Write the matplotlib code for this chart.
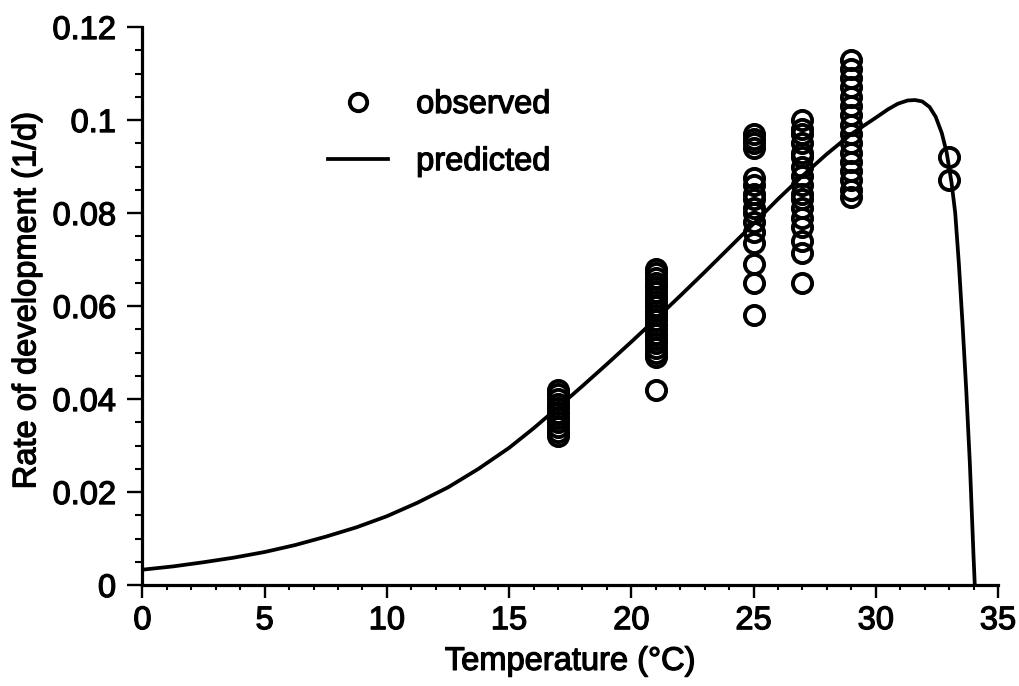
import matplotlib
matplotlib.use("Agg")
import matplotlib.pyplot as plt
from matplotlib.lines import Line2D
from matplotlib.ticker import MultipleLocator
import matplotlib.patheffects as pe

plt.rcParams['font.family'] = ['Liberation Sans', 'DejaVu Sans']

# Observed development rates (1/d) at each rearing temperature (°C)
temps_obs = [17, 21, 25, 27, 29, 33]
obs_17 = [0.032, 0.033, 0.034, 0.035, 0.036, 0.037, 0.038, 0.039, 0.040, 0.041, 0.042]
obs_21 = [0.042, 0.049, 0.050, 0.051, 0.052, 0.053, 0.054, 0.055, 0.056, 0.057, 0.058,
          0.059, 0.060, 0.061, 0.062, 0.063, 0.064, 0.065, 0.066, 0.067, 0.068]
obs_25 = [0.058, 0.065, 0.069, 0.0735, 0.076, 0.078, 0.080, 0.081, 0.083, 0.084, 0.086,
          0.0875, 0.094, 0.095, 0.096, 0.097]
obs_27 = [0.065, 0.0714, 0.074, 0.077, 0.079, 0.081, 0.083, 0.084, 0.086, 0.088, 0.090,
          0.092, 0.093, 0.095, 0.097, 0.098, 0.100]
obs_29 = [0.0834, 0.085, 0.087, 0.089, 0.091, 0.093, 0.095, 0.097, 0.099, 0.101, 0.103,
          0.105, 0.107, 0.109, 0.111, 0.113]
obs_33 = [0.087, 0.092]
obs_groups = [obs_17, obs_21, obs_25, obs_27, obs_29, obs_33]

# Predicted curve
pred_temp = [0, 1.25, 2.5, 3.75, 5, 6.25, 7.5, 8.75, 10, 11.25, 12.5, 13.75, 15, 16,
             17, 18, 19, 20, 21, 22, 23, 24, 25, 26, 27, 28, 29, 30, 30.5, 30.9,
             31.3, 31.6, 31.9, 32.2, 32.45, 32.7, 32.9, 33.1, 33.25, 33.4, 33.55,
             33.7, 33.85, 34.0, 34.05]
pred_rate = [0.0033, 0.0040, 0.0049, 0.0059, 0.0071, 0.0086, 0.0104, 0.0124, 0.0148,
             0.0177, 0.0210, 0.0250, 0.0295, 0.0337, 0.0382, 0.0428, 0.0475, 0.0523,
             0.0572, 0.0622, 0.0673, 0.0725, 0.0777, 0.0830, 0.0880, 0.0927, 0.0970,
             0.1005, 0.1023, 0.1035, 0.1042, 0.1043, 0.1040, 0.1028, 0.1007, 0.0972,
             0.0930, 0.0865, 0.0800, 0.0690, 0.0560, 0.0420, 0.0260, 0.0060, 0.0]

x_ticks = [0, 5, 10, 15, 20, 25, 30, 35]
y_ticks = [0, 0.02, 0.04, 0.06, 0.08, 0.1, 0.12]
y_ticklabels = ['0', '0.02', '0.04', '0.06', '0.08', '0.1', '0.12']

FS = 23.5
heavy = [pe.withStroke(linewidth=0.9, foreground='black')]

fig = plt.figure(figsize=(10.19, 6.86), dpi=100)
ax = fig.add_axes([0.1398, 0.1472, 0.8396, 0.8134])

obs_x, obs_y = [], []
for t, g in zip(temps_obs, obs_groups):
    obs_x += [t] * len(g)
    obs_y += g

ax.plot(pred_temp, pred_rate, color='black', lw=2.7, solid_capstyle='butt',
        solid_joinstyle='round', clip_on=False, zorder=2)
ax.plot(obs_x, obs_y, linestyle='none', marker='o', ms=13.8, mfc='none',
        mec='black', mew=2.8, clip_on=False, zorder=3)

ax.set_xlim(0, 35)
ax.set_ylim(0, 0.12)
ax.set_xticks(x_ticks)
ax.set_xticklabels([str(v) for v in x_ticks])
ax.set_yticks(y_ticks)
ax.set_yticklabels(y_ticklabels)
ax.xaxis.set_minor_locator(MultipleLocator(1))
ax.yaxis.set_minor_locator(MultipleLocator(0.005))

for s in ['top', 'right']:
    ax.spines[s].set_visible(False)
for s in ['left', 'bottom']:
    ax.spines[s].set_linewidth(2.3)

ax.tick_params(axis='x', which='major', direction='out', length=9.5, width=1.7,
               labelsize=FS, pad=5)
ax.tick_params(axis='x', which='minor', direction='out', length=3.5, width=1.5)
ax.tick_params(axis='y', which='major', direction='out', length=11, width=1.7,
               labelsize=FS, pad=8)
ax.tick_params(axis='y', which='minor', direction='out', length=5, width=1.5)

for lab in ax.get_xticklabels() + ax.get_yticklabels():
    lab.set_path_effects(heavy)

xl = ax.set_xlabel('Temperature (°C)', fontsize=FS, labelpad=7)
yl = ax.set_ylabel('Rate of development (1/d)', fontsize=FS)
xl.set_path_effects(heavy)
yl.set_path_effects(heavy)
ax.yaxis.set_label_coords(-0.117, 0.51)

handles = [Line2D([], [], linestyle='none', marker='o', ms=12.5, mfc='none',
                  mec='black', mew=2.8),
           Line2D([], [], color='black', lw=2.7)]
leg = ax.legend(handles, ['observed', 'predicted'], loc='upper left',
                bbox_to_anchor=(328 / 1019, 1 - 89 / 686), bbox_transform=fig.transFigure,
                frameon=False, fontsize=FS, handlelength=1.85, handletextpad=0.85,
                labelspacing=0.8, borderpad=0, borderaxespad=0)
for t in leg.get_texts():
    t.set_path_effects(heavy)

fig.savefig('out.png', dpi=100)
